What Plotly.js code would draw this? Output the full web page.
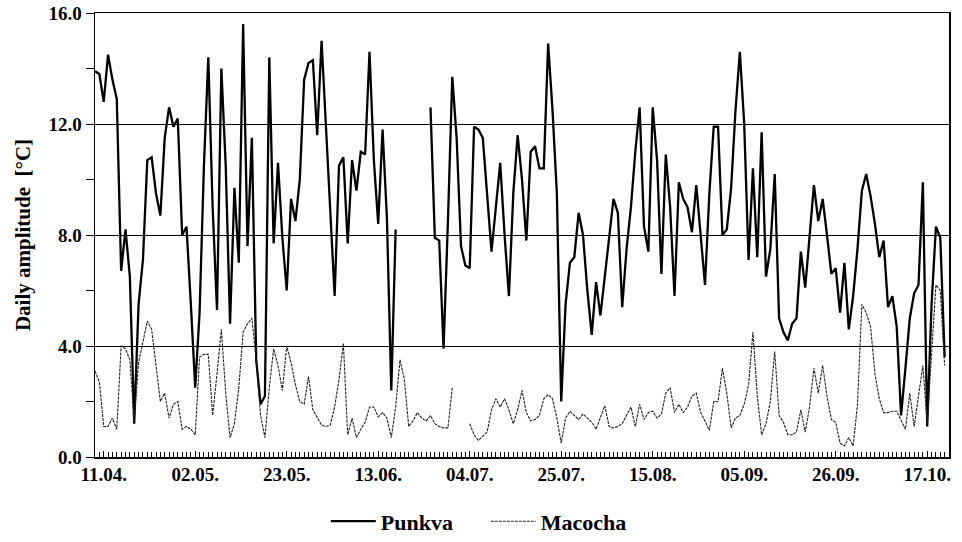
<!DOCTYPE html>
<html><head><meta charset="utf-8">
<script src="https://cdn.plot.ly/plotly-3.0.1.min.js"></script>
<style>html,body{margin:0;padding:0;background:#fff}#chart{width:962px;height:542px}</style>
</head><body><div id="chart"></div>
<script>
// day index 0 = 09.04.; one value per day
const punkva = [13.9,13.8,12.8,14.5,13.6,12.9,6.7,8.2,6.5,1.2,5.5,7.1,10.7,10.8,9.5,8.7,11.5,12.6,11.9,12.2,
8.0,8.3,5.5,2.5,5.2,10.5,14.4,9.0,5.3,14.0,10.5,4.8,9.7,7.0,15.6,7.6,11.5,3.5,1.9,2.2,
14.4,7.7,10.6,7.9,6.0,9.3,8.5,10.0,13.6,14.2,14.3,11.6,15.0,11.8,8.7,5.8,10.5,10.8,7.7,10.7,
9.6,11.0,10.9,14.6,10.7,8.4,11.8,8.6,2.4,8.2,null,null,null,null,null,null,null,12.6,7.9,7.8,
3.9,8.5,13.7,11.5,7.6,6.9,6.8,11.9,11.8,11.5,9.5,7.4,9.0,10.6,8.0,5.8,9.5,11.6,10.0,7.8,
11.0,11.2,10.4,10.4,14.9,12.5,9.5,2.0,5.5,7.0,7.2,8.8,8.0,6.0,4.4,6.3,5.1,6.5,7.7,9.3,
8.8,5.4,7.5,9.0,11.0,12.6,8.3,7.4,12.6,10.7,6.6,10.9,9.0,5.8,9.9,9.3,9.0,8.1,9.8,8.0,
6.2,9.5,11.9,11.9,8.0,8.2,9.7,12.5,14.6,12.0,7.1,10.4,7.2,11.7,6.5,7.5,10.2,5.0,4.5,4.2,
4.8,5.0,7.4,6.1,8.0,9.8,8.5,9.3,8.0,6.6,6.8,5.2,7.0,4.6,5.8,7.5,9.6,10.2,9.4,8.4,
7.2,7.8,5.4,5.8,4.7,1.5,3.2,5.0,5.9,6.2,9.9,1.1,5.5,8.3,7.9,3.6];
const macocha = [3.1,2.7,1.1,1.1,1.4,1.0,4.0,3.9,3.5,1.3,3.4,4.2,4.9,4.6,3.3,2.0,2.3,1.4,1.9,2.0,
1.0,1.1,1.0,0.8,3.6,3.7,3.7,1.5,3.0,4.6,2.3,0.7,1.2,2.5,4.5,4.8,5.0,3.5,1.5,0.7,
2.5,3.9,3.3,2.4,4.0,3.4,2.6,2.0,1.9,2.9,1.7,1.4,1.15,1.1,1.15,1.8,2.8,4.1,0.8,1.4,
0.7,1.0,1.25,1.8,1.8,1.45,1.6,1.4,0.7,1.8,3.5,2.8,1.1,1.3,1.6,1.4,1.3,1.5,1.2,1.1,
1.05,1.05,2.5,null,null,null,1.2,0.8,0.6,0.75,0.9,1.7,2.1,1.8,2.1,1.7,1.2,1.7,2.4,1.6,
1.3,1.35,1.5,2.1,2.25,2.1,1.4,0.5,1.4,1.65,1.5,1.35,1.55,1.4,1.25,1.0,1.4,1.85,1.1,1.05,
1.1,1.2,1.5,1.8,1.1,1.9,1.35,1.6,1.65,1.4,1.55,2.3,2.5,1.6,1.9,1.6,1.8,2.2,2.3,1.6,
1.3,0.95,2.0,2.0,3.2,2.3,1.05,1.4,1.5,1.9,2.6,4.5,2.2,0.8,1.2,2.0,3.8,1.5,1.25,0.8,
0.8,0.9,1.7,0.9,1.8,3.2,2.3,3.3,2.2,1.35,1.25,0.5,0.4,0.7,0.4,1.9,5.5,5.2,4.7,3.0,
2.1,1.6,1.6,1.65,1.65,1.3,1.0,2.3,1.1,2.2,3.3,1.2,3.8,6.2,6.0,3.3];
const tickDays = [2,23,44,65,86,107,128,149,170,191];
const tickLabels = ["11.04.","02.05.","23.05.","13.06.","04.07.","25.07.","15.08.","05.09.","26.09.","17.10."];
const yTicks = [0,4,8,12,16];
const yTickLabels = ["0.0","4.0","8.0","12.0","16.0"];

const days = punkva.map((_, i) => i);
const serif = "Liberation Serif, Times New Roman, serif";

const traces = [
  {x: days, y: punkva, name: "Punkva", type: "scatter", mode: "lines",
   line: {color: "#000", width: 2.3}, connectgaps: false},
  {x: days, y: macocha, name: "Macocha", type: "scatter", mode: "lines",
   line: {color: "#222", width: 1.1, dash: "3px,1px"}, connectgaps: false}
];

const layout = {
  width: 962, height: 542,
  margin: {l: 95, r: 13, t: 13, b: 85, autoexpand: false},
  paper_bgcolor: "#fff", plot_bgcolor: "#fff",
  showlegend: true,
  legend: {orientation: "h", xref: "container", x: 0.505, xanchor: "center",
           yref: "container", y: 0.038, yanchor: "middle",
           font: {family: serif, size: 22, color: "#000", weight: "bold"},
           itemwidth: 45, entrywidth: 100, entrywidthmode: "pixels", tracegroupgap: 0},
  xaxis: {
    range: [0, 196], showgrid: false, zeroline: false, automargin: false,
    showline: true, linecolor: "#000", linewidth: 1.5, mirror: true,
    tickmode: "array", tickvals: tickDays, ticktext: tickLabels,
    ticks: "inside", ticklen: 6, tickcolor: "#000", tickwidth: 1,
    tickfont: {family: serif, size: 19, color: "#000", weight: "bold"},
    minor: {tickmode: "linear", tick0: 0, dtick: 1, ticks: "inside", ticklen: 5, tickcolor: "#000", tickwidth: 1, showgrid: false}
  },
  yaxis: {
    range: [0, 16], zeroline: false, automargin: false,
    showline: true, linecolor: "#000", linewidth: 1.5, mirror: true,
    tickmode: "array", tickvals: yTicks, ticktext: yTickLabels,
    ticks: "outside", ticklen: 8, tickcolor: "#000", tickwidth: 1,
    showgrid: true, gridcolor: "#000", gridwidth: 1,
    tickfont: {family: serif, size: 19, color: "#000", weight: "bold"},
    minor: {tickmode: "linear", tick0: 2, dtick: 4, ticks: "outside", ticklen: 8, tickcolor: "#000", tickwidth: 1, showgrid: false},
    title: {text: "Daily amplitude  [°C]", standoff: 12,
            font: {family: serif, size: 21, color: "#000", weight: "bold"}}
  }
};

Plotly.newPlot("chart", traces, layout, {displayModeBar: false, staticPlot: true});
</script></body></html>
